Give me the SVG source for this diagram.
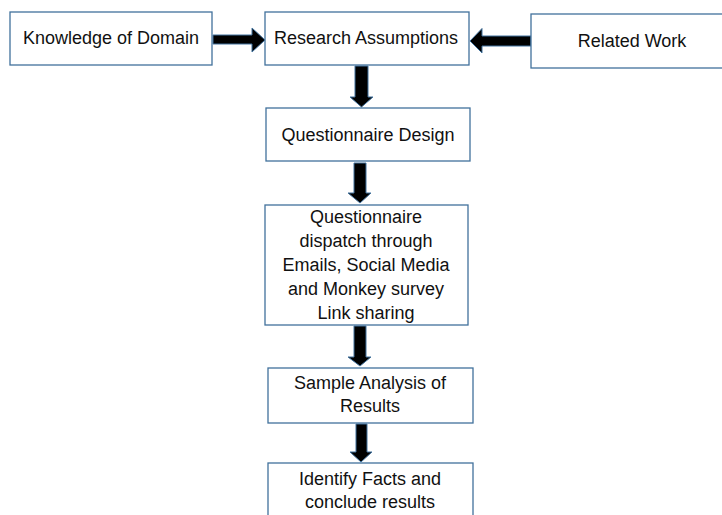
<svg xmlns="http://www.w3.org/2000/svg" width="722" height="515" viewBox="0 0 722 515">
<style>
.box{fill:#fff;stroke:#41719c;stroke-width:1.3}
.arr{fill:#000;stroke:#41719c;stroke-width:1}
text{font-family:"Liberation Sans",Arial,sans-serif;font-size:18px;fill:#111;text-anchor:middle}
</style>
<rect width="722" height="515" fill="#fff"/>
<g id="connectors">
<polygon class="arr" points="213,35 252,35 252,28 265,40 252,52 252,44 213,44"/>
<polygon class="arr" points="531,36 482,36 482,28.5 470,41 482,53 482,46 531,46"/>
<polygon class="arr" points="355,66 368,66 368,97 373,97 361.5,107 350,97 355,97"/>
<polygon class="arr" points="354,163 366,163 366,193 371,193 360,203 348,193 354,193"/>
<polygon class="arr" points="354,326 366,326 366,357 371,357 360,366 348,357 354,357"/>
<polygon class="arr" points="356,424 367,424 367,452 372,452 361,462 350,452 356,452"/>
</g>
<g id="knowledge">
<rect class="box" x="10" y="12" width="202" height="53"/>
<text x="111" y="44">Knowledge of Domain</text>
</g>
<g id="research">
<rect class="box" x="265" y="12" width="204" height="53"/>
<text x="366" y="44">Research Assumptions</text>
</g>
<g id="related">
<rect class="box" x="531" y="14" width="195" height="54"/>
<text x="632" y="47">Related Work</text>
</g>
<g id="design">
<rect class="box" x="266" y="108" width="204" height="53"/>
<text x="368" y="141">Questionnaire Design</text>
</g>
<g id="dispatch">
<rect class="box" x="265" y="205" width="203" height="120"/>
<text x="366" y="223">Questionnaire</text>
<text x="366" y="247">dispatch through</text>
<text x="366" y="271">Emails, Social Media</text>
<text x="366" y="295">and Monkey survey</text>
<text x="366" y="319">Link sharing</text>
</g>
<g id="sample">
<rect class="box" x="268" y="368" width="205" height="55"/>
<text x="370" y="389">Sample Analysis of</text>
<text x="370" y="412">Results</text>
</g>
<g id="identify">
<rect class="box" x="268" y="463" width="205" height="60"/>
<text x="370" y="485">Identify Facts and</text>
<text x="370" y="508">conclude results</text>
</g>
</svg>
